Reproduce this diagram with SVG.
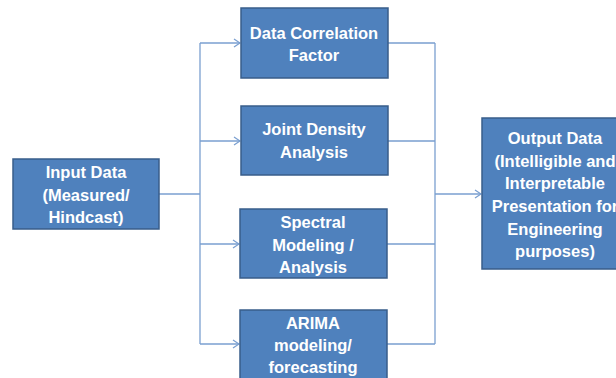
<svg xmlns="http://www.w3.org/2000/svg" width="616" height="378" viewBox="0 0 616 378">
<defs>
<style>
.box{fill:#4F81BD;stroke:#385D8A;stroke-width:1.5}
.t{font-family:"Liberation Sans",Arial,sans-serif;font-weight:bold;font-size:16.5px;fill:#FFFFFF;text-anchor:middle}
.c{fill:none;stroke:#7A9FD0;stroke-width:1.3}
</style>
<marker id="arr" markerWidth="8" markerHeight="10" refX="7" refY="5" orient="auto" markerUnits="userSpaceOnUse">
<path d="M1,1 L7,5 L1,9" fill="none" stroke="#7A9FD0" stroke-width="1.3"/>
</marker>
</defs>
<rect width="616" height="378" fill="#FFFFFF"/>
<g id="connectors">
<path class="c" d="M159,194 H200"/>
<path class="c" d="M200,43 V344"/>
<path class="c" d="M200,43 H240" marker-end="url(#arr)"/>
<path class="c" d="M200,141 H240" marker-end="url(#arr)"/>
<path class="c" d="M200,244 H239" marker-end="url(#arr)"/>
<path class="c" d="M200,344 H239" marker-end="url(#arr)"/>
<path class="c" d="M388,43 H435 M388,141 H435 M387,244 H435 M387,344 H435"/>
<path class="c" d="M435,43 V344"/>
<path class="c" d="M435,194 H481" marker-end="url(#arr)"/>
</g>
<g id="input">
<rect class="box" x="13" y="159" width="146" height="70"/>
<text class="t" x="86" y="178">Input Data</text>
<text class="t" x="86" y="201">(Measured/</text>
<text class="t" x="86" y="223">Hindcast)</text>
</g>
<g id="dcf">
<rect class="box" x="241" y="8" width="147" height="70"/>
<text class="t" x="314" y="39">Data Correlation</text>
<text class="t" x="314" y="61">Factor</text>
</g>
<g id="jda">
<rect class="box" x="241" y="106" width="147" height="69"/>
<text class="t" x="314" y="135">Joint Density</text>
<text class="t" x="314" y="158">Analysis</text>
</g>
<g id="spectral">
<rect class="box" x="240" y="209" width="147" height="69"/>
<text class="t" x="313" y="228">Spectral</text>
<text class="t" x="313" y="251">Modeling /</text>
<text class="t" x="313" y="273">Analysis</text>
</g>
<g id="arima">
<rect class="box" x="240" y="310" width="147" height="75"/>
<text class="t" x="313" y="329">ARIMA</text>
<text class="t" x="313" y="351">modeling/</text>
<text class="t" x="313" y="373">forecasting</text>
</g>
<g id="output">
<rect class="box" x="482" y="118" width="146" height="151"/>
<text class="t" x="555" y="144">Output Data</text>
<text class="t" x="555" y="167">(Intelligible and</text>
<text class="t" x="555" y="189">Interpretable</text>
<text class="t" x="555" y="212">Presentation for</text>
<text class="t" x="555" y="235">Engineering</text>
<text class="t" x="555" y="257">purposes)</text>
</g>
</svg>
